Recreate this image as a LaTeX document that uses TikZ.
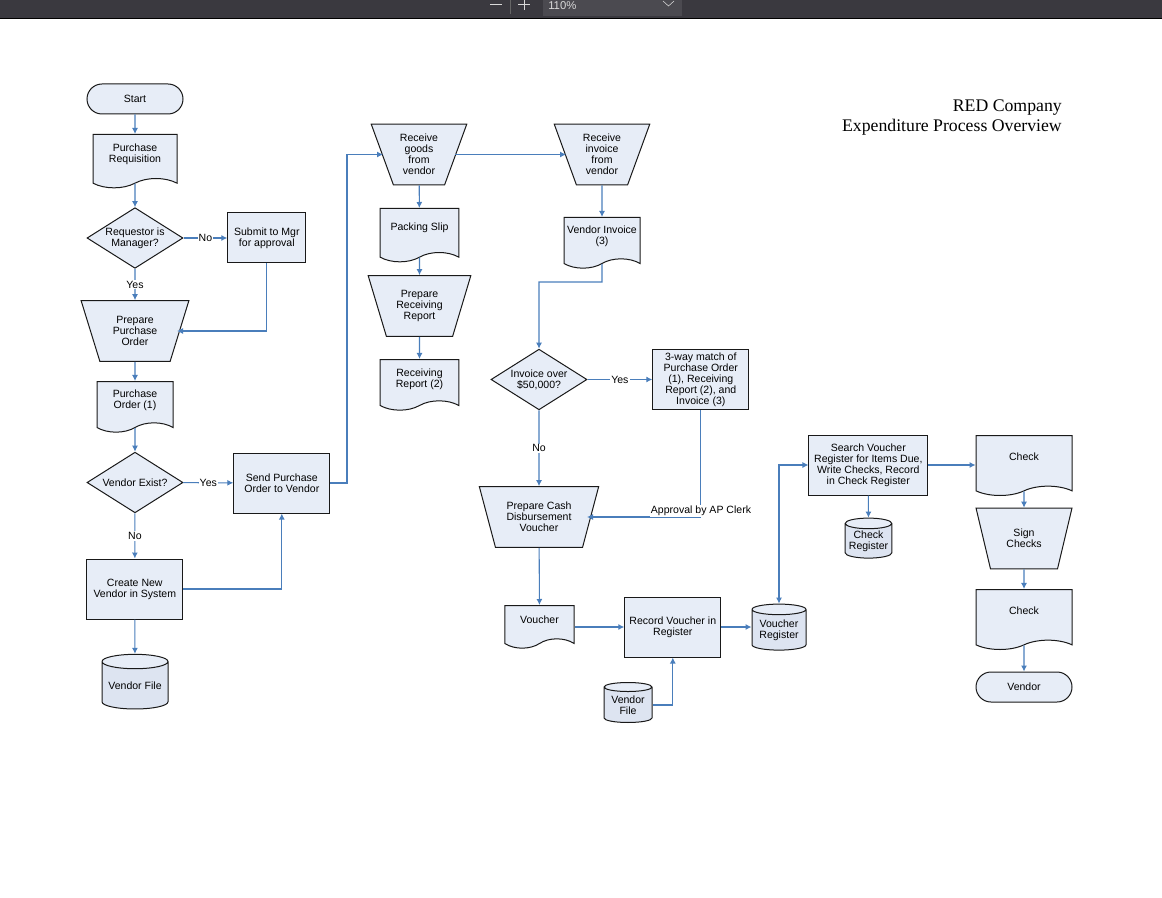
\documentclass[tikz,border=0pt]{standalone}
\usepackage{fontspec}
\setmainfont{Liberation Sans}
\newfontfamily\titlefont{Liberation Serif}
\usetikzlibrary{shapes,shapes.geometric,shapes.symbols,shapes.misc,arrows.meta,calc}

\definecolor{boxfill}{HTML}{E7EDF7}
\definecolor{drumfill}{HTML}{DDE4F1}
\definecolor{flowblue}{HTML}{4A7EBB}
\definecolor{barcolor}{HTML}{3A393F}
\definecolor{barbox}{HTML}{4B4A50}

\tikzset{
    every node/.style={font=\fontsize{7.9}{8.25}\selectfont,align=center,inner sep=0pt,text=black},
    shapeline/.style={draw=black!90,line width=0.75pt,fill=boxfill},
    process/.style={shapeline,rectangle,minimum width=72pt,minimum height=45pt},
    terminal/.style={shapeline,rounded rectangle,minimum width=72pt,minimum height=22.5pt},
    decision/.style={shapeline,diamond,aspect=1.6,minimum width=72pt,minimum height=45.5pt},
    manual/.style={shapeline,trapezium,shape border rotate=180,trapezium left angle=68,trapezium right angle=68,trapezium stretches=true,minimum width=72pt,minimum height=45.5pt},
    document/.style={shapeline,tape,anchor=north,tape bend top=none,tape bend bottom=in and out,tape bend height=7pt,text depth=5pt,minimum width=72pt,minimum height=38pt},
    drum/.style={draw=black!90,line width=0.75pt,cylinder,shape border rotate=90,aspect=0.27,cylinder uses custom fill,cylinder body fill=drumfill,cylinder end fill=boxfill},
    flow/.style={draw=flowblue,line width=0.8pt,>={Latex[length=4.5pt,width=4.5pt]},->},
    flowlabel/.style={fill=white,inner sep=0.8pt},
}

\begin{document}
\begin{tikzpicture}[x=0.75pt,y=-0.75pt]
    \useasboundingbox (0,0) rectangle (1162,898);

    % viewer toolbar
    \fill[barcolor] (0,0) rectangle (1162,18);
    \fill[barbox] (543,0) rectangle (682,16);
    \draw[black] (0,18.2) -- (1162,18.2);
    \draw[black!60] (510.5,0) -- (510.5,14);
    \draw[white!85!black] (490,4) -- (502,4);
    \draw[white!85!black] (518,4.5) -- (530,4.5) (524,0) -- (524,10);
    \draw[white!85!black] (663,1) -- (668.5,6) -- (674,1);
    \node[text=white!85!black,font=\fontsize{8.5}{10}\selectfont,anchor=base west] (zoomlevel) at (548,10) {110\%};

    % title
    \node[anchor=base east,font=\titlefont\fontsize{13.3}{15}\selectfont] (company) at (1062,111.5) {RED Company};
    \node[anchor=base east,font=\titlefont\fontsize{13.3}{15}\selectfont] (overview) at (1062,131.5) {Expenditure Process Overview};

    % first column
    \node[terminal] (start) at (135,99) {Start};
    \node[document,minimum width=63pt,minimum height=40pt] (requisition) at (135,134) {Purchase\\Requisition};
    \node[decision] (ismanager) at (135,238) {Requestor is\\Manager?};
    \node[process,minimum width=58.5pt,minimum height=37.5pt] (submit) at (266.8,238) {Submit to Mgr\\for approval};
    \node[manual,minimum width=81pt] (prepareorder) at (135,331) {Prepare\\Purchase\\Order};
    \node[document,minimum width=57pt] (order) at (135,381) {Purchase\\Order (1)};
    \node[decision] (vendorexist) at (135,482.5) {Vendor Exist?};
    \node[process] (sendorder) at (281.8,483) {Send Purchase\\Order to Vendor};
    \node[process] (createvendor) at (134.8,589) {Create New\\Vendor in System};
    \node[drum,minimum width=49.5pt,minimum height=41pt] (vendorfile) at (135,685.5) {Vendor File};

    % second column
    \node[manual] (receivegoods) at (419,154.5) {Receive\\goods\\from\\vendor};
    \node[document,minimum width=59pt,minimum height=40pt] (packing) at (419.5,208) {Packing Slip};
    \node[manual,minimum width=77pt] (preparereport) at (419.5,306) {Prepare\\Receiving\\Report};
    \node[document,minimum width=59pt,text depth=3pt] (report) at (419.5,359) {Receiving\\Report (2)};

    % third column
    \node[manual] (receiveinvoice) at (602,154.5) {Receive\\invoice\\from\\vendor};
    \node[document,minimum width=57pt,text depth=4.2pt] (invoice) at (602,217) {Vendor Invoice\\(3)};
    \node[decision] (overlimit) at (539,379.5) {Invoice over\\\$50,000?};
    \node[process,minimum height=45.5pt] (threeway) at (700.8,379.5) {3-way match of\\Purchase Order\\(1), Receiving\\Report (2), and\\Invoice (3)};
    \node[manual,minimum width=90pt] (preparecash) at (539,517) {Prepare Cash\\Disbursement\\Voucher};
    \node[document,minimum width=52pt,minimum height=32pt,text depth=3pt] (voucher) at (539.5,605) {Voucher};
    \node[process] (recordvoucher) at (672.8,627) {Record Voucher in\\Register};
    \node[drum,minimum width=36pt,minimum height=30pt] (smallfile) at (628,705) {Vendor\\File};
    \node[drum,minimum width=40.5pt,minimum height=34.5pt] (voucherreg) at (779,630) {Voucher\\Register};

    % last columns
    \node[process,minimum width=89pt] (search) at (868.3,465) {Search Voucher\\Register for Items Due,\\Write Checks, Record\\in Check Register};
    \node[drum,minimum width=35pt,minimum height=30pt] (checkreg) at (868.5,541) {Check\\Register};
    \node[document,minimum height=45pt,text depth=5.5pt] (checkone) at (1024,435) {Check};
    \node[manual] (sign) at (1024,538.5) {Sign\\Checks};
    \node[document,minimum height=45pt,text depth=5.5pt] (checktwo) at (1024,589) {Check};
    \node[terminal] (vendor) at (1024,687) {Vendor};

    % side points of the slanted shapes
    \coordinate (orderside) at ($(prepareorder.center)+(42,0)$);
    \coordinate (goodsin) at ($(receivegoods.center)+(-36,0)$);
    \coordinate (goodsout) at ($(receivegoods.center)+(36,0)$);
    \coordinate (invoicein) at ($(receiveinvoice.center)+(-36,0)$);
    \coordinate (cashside) at ($(preparecash.center)+(48,0)$);

    % connectors
    \draw[flow] (start) -- (requisition);
    \draw[flow] (requisition) -- (ismanager);
    \draw[flow] (ismanager) -- node[flowlabel] (labelno) {No} (submit);
    \draw[flow] (ismanager) -- node[flowlabel] (labelyes) {Yes} (prepareorder);
    \draw[flow] (submit) |- (orderside);
    \draw[flow] (prepareorder) -- (order);
    \draw[flow] (order) -- (vendorexist);
    \draw[flow] (vendorexist) -- node[flowlabel] (labelyestwo) {Yes} (sendorder);
    \draw[flow] (vendorexist) -- node[flowlabel] (labelnotwo) {No} (createvendor);
    \draw[flow] (createvendor) -- (vendorfile);
    \draw[flow] (createvendor) -| (sendorder);
    \coordinate (sendelbow) at (347,483);
    \draw[flow] (sendorder) -- (sendelbow) |- (goodsin);
    \draw[flow] (goodsout) -- (invoicein);
    \draw[flow] (receivegoods) -- (packing);
    \draw[flow] (packing) -- (preparereport);
    \draw[flow] (preparereport) -- (report);
    \draw[flow] (receiveinvoice) -- (invoice);
    \coordinate (invoiceelbow) at (602,282);
    \draw[flow] (invoice) -- (invoiceelbow) -| (overlimit);
    \draw[flow] (overlimit) -- node[flowlabel] (labelyesthree) {Yes} (threeway);
    \draw[flow] (overlimit) -- node[flowlabel] (labelnothree) {No} (preparecash);
    \draw[flow] (threeway) |- (cashside);
    \node[flowlabel] (approval) at (701,511) {Approval by AP Clerk};
    \draw[flow] (preparecash) -- (voucher);
    \draw[flow] (voucher.east |- recordvoucher) -- (recordvoucher);
    \draw[flow] (smallfile) -| (recordvoucher);
    \draw[flow] (recordvoucher.east) -- (recordvoucher.east -| voucherreg.west);
    \draw[flow,<->] (voucherreg) |- (search);
    \draw[flow] (search.east) -- (search.east -| checkone.west);
    \draw[flow] (search) -- (checkreg);
    \draw[flow] (checkone) -- (sign);
    \draw[flow] (sign) -- (checktwo);
    \draw[flow] (checktwo) -- (vendor);
\end{tikzpicture}
\end{document}
